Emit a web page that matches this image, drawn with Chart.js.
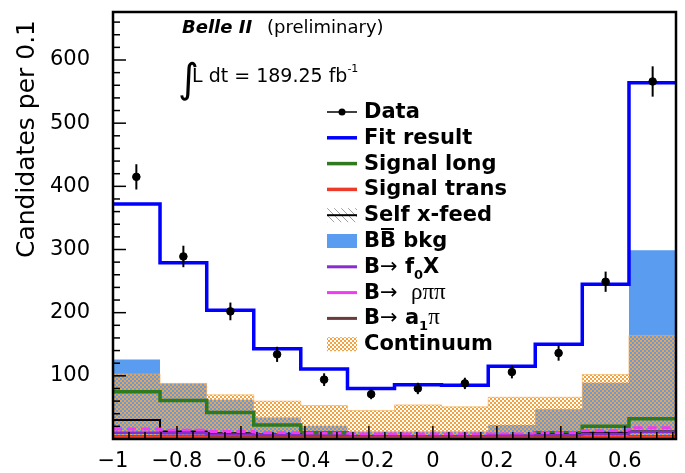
<!DOCTYPE html>
<html>
<head>
<meta charset="utf-8">
<script src="https://cdn.jsdelivr.net/npm/chart.js@4.4.0/dist/chart.umd.min.js"></script>
<style>
    html, body { margin: 0; padding: 0; background: #fff; }
    #wrap { width: 685px; height: 473px; }
</style>
</head>
<body>
<div id="wrap"><canvas id="fitChart" width="685" height="473"></canvas></div>
<script>
// Binning (x axis)
const binEdges = [-1, -0.853, -0.707, -0.56, -0.413, -0.267, -0.12, 0.027, 0.173, 0.32, 0.467, 0.613, 0.76];
const binCenters = [-0.927, -0.78, -0.633, -0.487, -0.34, -0.193, -0.047, 0.1, 0.247, 0.393, 0.54, 0.687];
const xTickValues = [-1, -0.8, -0.6, -0.4, -0.2, 0, 0.2, 0.4, 0.6];
const yTickValues = [100, 200, 300, 400, 500, 600];

// Series values (candidates per bin)
const dataCounts = [415, 289, 202, 134, 94, 71, 80, 88, 106, 136, 249, 566];
const dataErrors = [20, 17, 14, 12, 10, 8, 9, 9, 10, 12, 16, 24];
const fitResult = [372, 279, 204, 143, 111, 80, 86, 85, 115, 150, 245, 564];
const signalLong = [75, 61, 42, 22, 10, 4, 2, 2, 3, 10, 20, 32];
const signalTrans = [3, 3, 2, 2, 2, 2, 2, 2, 2, 2, 3, 3];
const selfXFeed = [30, 12, 9, 7, 5, 4, 4, 4, 5, 7, 10, 12];
const bbBkg = [126, 88, 62, 34, 21, 12, 12, 12, 22, 47, 89, 299];
const bToF0X = [10, 9, 7, 6, 5, 4, 4, 4, 5, 6, 8, 11];
const bToRhoPiPi = [16, 14, 12, 10, 9, 8, 8, 8, 8, 10, 13, 18];
const bToA1Pi = [4, 4, 3, 3, 3, 2, 2, 2, 2, 3, 3, 4];
const continuum = [103, 88, 70, 60, 53, 45, 54, 51, 66, 66, 102, 164];

const FONT = "'DejaVu Sans', sans-serif";
const ORANGE = "rgb(244,162,64)";

function steps(vals) {
    const pts = vals.map((v, i) => ({ x: binEdges[i], y: v }));
    pts.push({ x: binEdges[vals.length], y: vals[vals.length - 1] });
    return pts;
}

// orange checker used for the continuum fill
function makeCrossPattern(ctx) {
    const c = document.createElement("canvas");
    c.width = 4; c.height = 4;
    const g = c.getContext("2d");
    g.fillStyle = ORANGE;
    g.fillRect(0, 0, 2, 2);
    g.fillRect(2, 2, 2, 2);
    return ctx.createPattern(c, "repeat");
}

function makeHatchPattern(ctx) {
    const c = document.createElement("canvas");
    c.width = 7; c.height = 7;
    const g = c.getContext("2d");
    g.strokeStyle = "#a0a0a0";
    g.lineWidth = 1;
    g.beginPath();
    g.moveTo(-1, -1); g.lineTo(8, 8);
    g.stroke();
    return ctx.createPattern(c, "repeat");
}

function stepLine(label, vals, color, width, order, extra) {
    return Object.assign({
        label: label,
        type: "line",
        data: steps(vals),
        stepped: true,
        borderColor: color,
        borderWidth: width,
        pointRadius: 0,
        fill: false,
        order: order
    }, extra || {});
}

function drawRich(ctx, x, y, segs) {
    segs.forEach(s => {
        ctx.font = s.font;
        ctx.fillText(s.t, x, y + (s.dy || 0));
        const w = ctx.measureText(s.t).width;
        if (s.over) {
            ctx.save();
            ctx.lineWidth = 2;
            ctx.beginPath();
            ctx.moveTo(x + 1, y - 18);
            ctx.lineTo(x + w - 2, y - 18);
            ctx.stroke();
            ctx.restore();
        }
        x += w;
    });
}

// frame, inner ticks, error bars, labels and legend
const decorPlugin = {
    id: "decor",
    afterDatasetsDraw(chart) {
        const ctx = chart.ctx;
        const xs = chart.scales.x, ys = chart.scales.y;
        const area = chart.chartArea;

        // error bars
        ctx.save();
        ctx.strokeStyle = "#000";
        ctx.lineWidth = 2;
        dataCounts.forEach((v, i) => {
            const px = xs.getPixelForValue(binCenters[i]);
            ctx.beginPath();
            ctx.moveTo(px, ys.getPixelForValue(v - dataErrors[i]));
            ctx.lineTo(px, ys.getPixelForValue(v + dataErrors[i]));
            ctx.stroke();
        });

        // ticks
        ctx.lineWidth = 1.5;
        for (let v = 0; v <= 676; v += 20) {
            const py = ys.getPixelForValue(v);
            const len = v % 100 === 0 ? 13 : 7;
            ctx.beginPath();
            ctx.moveTo(area.left, py);
            ctx.lineTo(area.left + len, py);
            ctx.stroke();
        }
        for (let k = 0; k <= 35; k++) {
            const v = -1 + k * 0.05;
            const px = xs.getPixelForValue(v);
            const len = k % 4 === 0 ? 13 : 7;
            ctx.beginPath();
            ctx.moveTo(px, area.bottom);
            ctx.lineTo(px, area.bottom - len);
            ctx.stroke();
        }

        // frame
        ctx.lineWidth = 2.5;
        ctx.strokeRect(area.left, area.top, area.right - area.left, area.bottom - area.top);
        ctx.restore();
    },
    afterDraw(chart) {
        const ctx = chart.ctx;
        ctx.save();
        ctx.fillStyle = "#000";
        ctx.strokeStyle = "#000";
        ctx.textBaseline = "alphabetic";
        ctx.textAlign = "left";

        // y title
        ctx.save();
        ctx.translate(34, 20);
        ctx.rotate(-Math.PI / 2);
        ctx.textAlign = "right";
        ctx.font = "25px " + FONT;
        ctx.fillText("Candidates per 0.1", 0, 0);
        ctx.restore();

        // Belle II label
        ctx.font = "italic bold 18px " + FONT;
        ctx.fillText("Belle II", 182, 33);
        ctx.font = "18px " + FONT;
        ctx.fillText("(preliminary)", 267, 33);
        ctx.font = "40px " + FONT;
        ctx.fillText("\u222B", 178, 92);
        drawRich(ctx, 192, 82, [
            { t: "L dt = 189.25 fb", font: "19px " + FONT },
            { t: "-1", font: "11px " + FONT, dy: -10 }
        ]);

        // legend
        const bold = "bold 21px " + FONT;
        const thin = "21px " + FONT;
        const serif = "23px 'Liberation Serif', serif";
        const sub = "bold 13px " + FONT;
        const x0 = 327, x1 = 357, tx = 364, row0 = 112, dy = 25.8;
        const rows = [
            { kind: "data", segs: [{ t: "Data", font: bold }] },
            { kind: "line", color: "#0000ff", w: 3.5, segs: [{ t: "Fit result", font: bold }] },
            { kind: "line", color: "#2e7a1f", w: 3.5, segs: [{ t: "Signal long", font: bold }] },
            { kind: "line", color: "#ee3a2a", w: 3.5, segs: [{ t: "Signal trans", font: bold }] },
            { kind: "hatch", segs: [{ t: "Self x-feed", font: bold }] },
            { kind: "box", color: "#5a9cf0", segs: [{ t: "B", font: bold }, { t: "B", font: bold, over: true }, { t: " bkg", font: bold }] },
            { kind: "line", color: "#8a2bd0", w: 3, segs: [{ t: "B", font: bold }, { t: "\u2192", font: thin }, { t: " f", font: bold }, { t: "0", font: sub, dy: 6 }, { t: "X", font: bold }] },
            { kind: "line", color: "#f03cf0", w: 3, segs: [{ t: "B", font: bold }, { t: "\u2192  ", font: thin }, { t: "\u03C1\u03C0\u03C0", font: serif }] },
            { kind: "line", color: "#6b3a3a", w: 3, segs: [{ t: "B", font: bold }, { t: "\u2192", font: thin }, { t: " a", font: bold }, { t: "1", font: sub, dy: 6 }, { t: "\u03C0", font: serif }] },
            { kind: "cont", segs: [{ t: "Continuum", font: bold }] }
        ];
        rows.forEach((r, i) => {
            const y = row0 + i * dy;
            if (r.kind === "data") {
                ctx.lineWidth = 1.5;
                ctx.beginPath(); ctx.moveTo(x0, y); ctx.lineTo(x1, y); ctx.stroke();
                ctx.beginPath(); ctx.arc((x0 + x1) / 2, y, 3.5, 0, Math.PI * 2); ctx.fill();
            } else if (r.kind === "line") {
                ctx.strokeStyle = r.color; ctx.lineWidth = r.w;
                ctx.beginPath(); ctx.moveTo(x0, y); ctx.lineTo(x1, y); ctx.stroke();
                ctx.strokeStyle = "#000";
            } else if (r.kind === "hatch") {
                ctx.fillStyle = makeHatchPattern(ctx);
                ctx.fillRect(x0, y - 7, x1 - x0, 14);
                ctx.fillStyle = "#000";
                ctx.lineWidth = 2;
                ctx.beginPath(); ctx.moveTo(x0, y); ctx.lineTo(x1, y); ctx.stroke();
            } else if (r.kind === "box") {
                ctx.fillStyle = r.color;
                ctx.fillRect(x0, y - 7, x1 - x0, 14);
                ctx.fillStyle = "#000";
            } else if (r.kind === "cont") {
                ctx.fillStyle = makeCrossPattern(ctx);
                ctx.fillRect(x0, y - 7, x1 - x0, 14);
                ctx.fillStyle = "#000";
            }
            drawRich(ctx, tx, y + 6, r.segs);
        });
        ctx.restore();
    }
};

const canvas = document.getElementById("fitChart");
const ctx = canvas.getContext("2d");

new Chart(ctx, {
    data: {
        datasets: [
            {
                label: "Data",
                type: "line",
                data: dataCounts.map((v, i) => ({ x: binCenters[i], y: v })),
                showLine: false,
                pointRadius: 3.8,
                pointBackgroundColor: "#000",
                pointBorderColor: "#000",
                order: 0
            },
            stepLine("Fit result", fitResult, "#0000ff", 3.5, 1),
            stepLine("Signal trans", signalTrans, "#ee3a2a", 2.5, 2),
            stepLine("B\u2192 a1\u03C0", bToA1Pi, "#6b3a3a", 2.5, 3),
            stepLine("B\u2192 f0X", bToF0X, "#8a2bd0", 2.5, 4),
            stepLine("B\u2192 \u03C1\u03C0\u03C0", bToRhoPiPi, "#f03cf0", 3, 5, { borderDash: [9, 5] }),
            stepLine("Self x-feed", selfXFeed, "#000", 2, 6),
            stepLine("Signal long", signalLong, "#2e7a1f", 3.5, 7),
            stepLine("Continuum", continuum, "rgba(244,170,80,0.6)", 1, 8, {
                fill: "origin",
                backgroundColor: makeCrossPattern(ctx)
            }),
            stepLine("BB bkg", bbBkg, "rgba(0,0,0,0)", 0, 9, {
                fill: "origin",
                backgroundColor: "#5a9cf0"
            })
        ]
    },
    options: {
        responsive: false,
        animation: false,
        devicePixelRatio: 1,
        layout: { padding: { top: 12, right: 9, left: 0, bottom: 0 } },
        plugins: {
            legend: { display: false },
            tooltip: { enabled: false }
        },
        scales: {
            x: {
                type: "linear",
                min: -1,
                max: 0.76,
                grid: { display: false },
                border: { display: false },
                afterBuildTicks: s => { s.ticks = xTickValues.map(v => ({ value: v })); },
                afterFit: s => {
                    s.height = 34;
                    s.paddingLeft = 0; s.paddingRight = 0;
                },
                ticks: {
                    color: "#000",
                    padding: 2,
                    maxRotation: 0,
                    font: { family: FONT, size: 21 },
                    callback: v => (v < 0 ? "\u2212" : "") + String(Math.abs(Number(v.toFixed(1))))
                }
            },
            y: {
                type: "linear",
                min: 0,
                max: 676,
                grid: { display: false },
                border: { display: false },
                afterBuildTicks: s => { s.ticks = yTickValues.map(v => ({ value: v })); },
                afterFit: s => {
                    s.width = 113;
                    s.paddingTop = 0; s.paddingBottom = 0;
                },
                ticks: {
                    color: "#000",
                    padding: 15,
                    font: { family: FONT, size: 21 }
                }
            }
        }
    },
    plugins: [decorPlugin]
});
</script>
</body>
</html>
